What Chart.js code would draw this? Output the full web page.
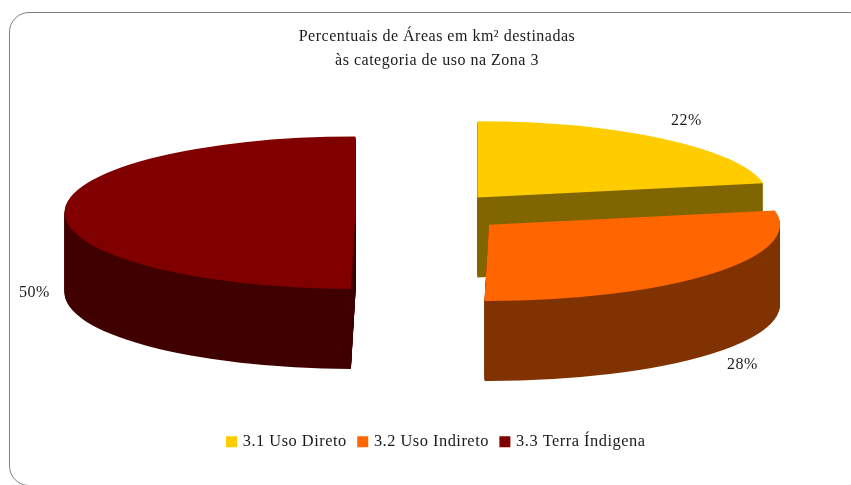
<!DOCTYPE html>
<html>
<head>
<meta charset="utf-8">
<style>
    html, body { margin: 0; padding: 0; background: #fff; overflow: hidden; }
    #wrap { position: relative; width: 851px; height: 485px; overflow: hidden; }
    #frame { position: absolute; left: 9px; top: 12px; width: 860px; height: 474px; border: 1.5px solid #808080; border-radius: 20px; box-sizing: border-box; }
    canvas { position: absolute; left: 0; top: 0; }
</style>
<script src="https://cdn.jsdelivr.net/npm/chart.js@4"></script>
</head>
<body>
<div id="wrap">
    <div id="frame"></div>
    <canvas id="pie" width="851" height="485"></canvas>
</div>
<script>
    const titleLines = ["Percentuais de Áreas em km² destinadas", "às categoria de uso na Zona 3"];
    const categories = ["3.1 Uso Direto", "3.2 Uso Indireto", "3.3 Terra Índigena"];
    const shares = [22, 28.25, 49.75];
    const topColors = ["#FFCC00", "#FF6600", "#800000"];
    const wallColors = ["#806600", "#803300", "#400000"];

    // slice explosion (px, along bisector) and squash of the 3d look
    const explode = [81.5, 83, 70];
    const explodeSquash = [0.245, 0.223, 0.262];
    const SQUASH = 0.262;
    const DEPTH = 80;
    const RADIUS = 291;
    const PIE_DX = -11.5;
    const PIE_DY = -34;
    const SERIF = "'Liberation Serif', 'Times New Roman', serif";

    function setSpacing(chart, value) {
        chart.ctx.letterSpacing = value;
    }

    const pie3d = {
        id: "pie3d",
        beforeDatasetsDraw(chart) {
            const ctx = chart.ctx;
            const arcs = chart.getDatasetMeta(0).data;
            // back to front: red, yellow, orange sits on the yellow wall
            [2, 0, 1].forEach(i => {
                const arc = arcs[i];
                const mid = (arc.startAngle + arc.endAngle) / 2;
                const top = arc.options.backgroundColor;
                const drawAt = (shift, color) => {
                    ctx.save();
                    ctx.translate(arc.x + PIE_DX + Math.cos(mid) * explode[i], arc.y + PIE_DY + Math.sin(mid) * explode[i] * explodeSquash[i] + shift);
                    ctx.scale(1, SQUASH);
                    ctx.translate(-arc.x, -arc.y);
                    arc.options.backgroundColor = color;
                    arc.options.borderColor = color;
                    arc.draw(ctx);
                    ctx.restore();
                };
                for (let d = DEPTH; d > 0; d--) drawAt(d, wallColors[i]);
                drawAt(0, top);
                arc.options.backgroundColor = top;
                arc.options.borderColor = top;
            });
            return false;
        }
    };

    const pctLabels = {
        id: "pctLabels",
        afterDraw(chart) {
            const ctx = chart.ctx;
            const area = chart.chartArea;
            // label anchors relative to the pie centre
            const offsets = [[261, -92], [317, 152], [-391, 80]];
            ctx.save();
            ctx.font = "16px " + SERIF;
            ctx.fillStyle = "#1a1a1a";
            ctx.textAlign = "center";
            ctx.textBaseline = "middle";
            shares.forEach((v, i) => {
                const x = (area.left + area.right) / 2 + PIE_DX + offsets[i][0];
                const y = (area.top + area.bottom) / 2 + PIE_DY + offsets[i][1];
                ctx.fillText(Math.round(v) + "%", x, y);
            });
            ctx.restore();
        }
    };

    const spacing = {
        id: "spacing",
        beforeLayout(chart) { setSpacing(chart, "0.5px"); },
        beforeDraw(chart) { setSpacing(chart, "0.5px"); }
    };

    // small box + thick stroke keeps the text close to the swatch
    function legendItems(chart) {
        return Chart.overrides.pie.plugins.legend.labels.generateLabels(chart).map(item => ({
            ...item,
            strokeStyle: item.fillStyle,
            lineWidth: 5
        }));
    }

    new Chart(document.getElementById("pie"), {
        type: "pie",
        data: {
            labels: categories,
            datasets: [{
                data: shares,
                backgroundColor: topColors,
                borderWidth: 0
            }]
        },
        plugins: [spacing, pie3d, pctLabels],
        options: {
            responsive: false,
            animation: false,
            radius: RADIUS,
            layout: { padding: { left: 23, bottom: 25 } },
            plugins: {
                title: {
                    display: true,
                    text: titleLines,
                    color: "#1a1a1a",
                    font: { family: SERIF, size: 16, weight: "normal", lineHeight: 1.5 },
                    padding: { top: 25, bottom: 0 }
                },
                legend: {
                    position: "bottom",
                    labels: {
                        color: "#1a1a1a",
                        font: { family: SERIF, size: 16.4 },
                        boxWidth: 6,
                        boxHeight: 6,
                        padding: 13,
                        generateLabels: legendItems
                    }
                },
                tooltip: { enabled: false }
            }
        }
    });
</script>
</body>
</html>
